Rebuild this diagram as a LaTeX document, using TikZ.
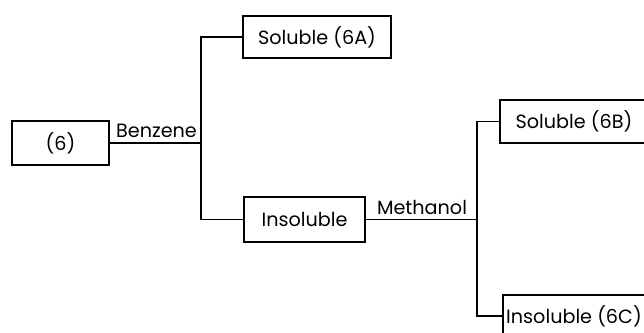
\documentclass[tikz,border=0pt]{standalone}
\usepackage{fontspec}
\setmainfont{Poppins}
\begin{document}
\begin{tikzpicture}[x=1pt,y=-1pt,
  box/.style={draw,line width=2pt,inner sep=0pt,anchor=center},
  lbl/.style={inner sep=0pt,anchor=base},
  conn/.style={line width=1.5pt},
  every node/.style={font=\fontsize{19.2}{22}\selectfont}]
\useasboundingbox (0,0) rectangle (644,332);
% sample and fractions
\node[box,minimum width=97pt,minimum height=44pt] (n6) at (60.5,143) {(6)};
\node[box,minimum width=148pt,minimum height=42pt] (s6A) at (317,37) {Soluble (6A)};
\node[box,minimum width=121pt,minimum height=45pt] (ins) at (304.5,219.5) {Insoluble};
\node[box,minimum width=148pt,minimum height=43pt] (s6B) at (574,121.5) {Soluble (6B)};
\node[box,minimum width=150pt,minimum height=42pt] (s6C) at (578,316) {};
\node[lbl,anchor=base west] (t6C) at (506,323) {Insoluble (6C)};
% junctions of the separations
\coordinate (j1) at (201,143);
\coordinate (j2) at (477,219.5);
\draw[conn] (n6.east) -- (j1);
\draw[conn] (s6A.west) -| (j1) |- (ins.west);
\draw[conn] (ins.east) -- (j2);
\draw[conn] (s6B.west) -| (j2) |- (s6C.west);
% solvent labels
\node[lbl] (benz) at (156.5,137) {Benzene};
\node[lbl] (meth) at (422,214) {Methanol};
\end{tikzpicture}
\end{document}
